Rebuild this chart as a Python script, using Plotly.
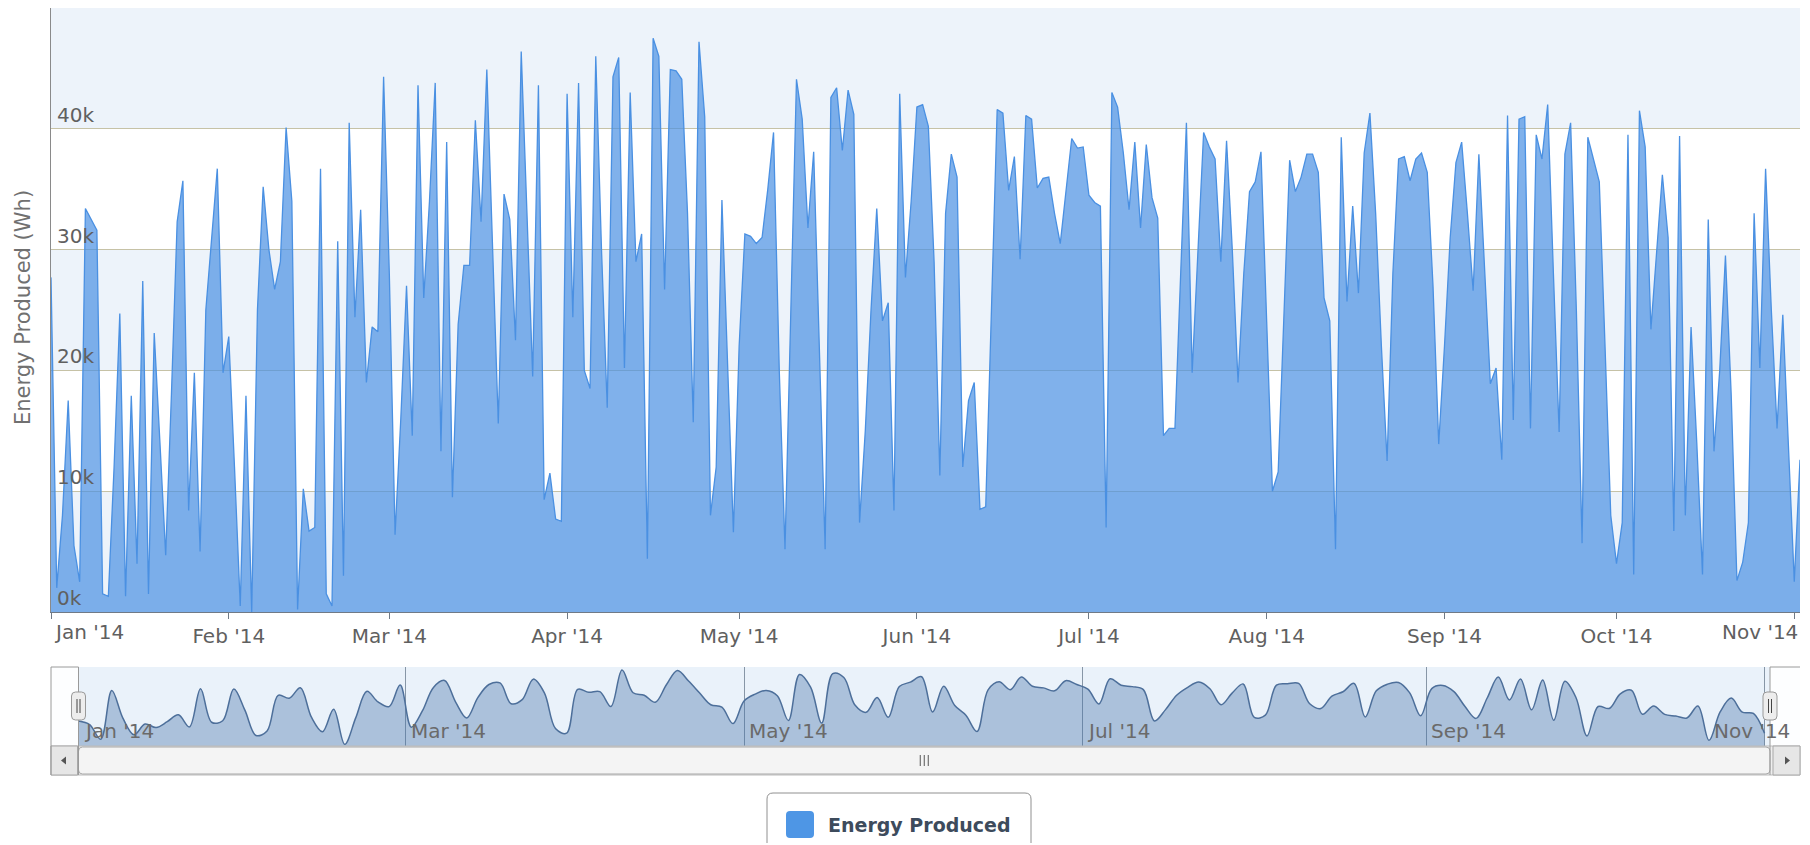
import pandas as pd
import numpy as np
import plotly.graph_objects as go

# ---------------- data (daily energy, thousands of Wh) ----------------
start_date = "2014-01-01"
energy_k = [
    27.7, 2, 8, 17.5, 5.5, 2.5, 33.4, 32.5, 31.6, 1.5,
    1.3, 12, 24.7, 1.3, 17.9, 4, 27.4, 1.5, 23.1, 14,
    4.7, 18, 32.3, 35.7, 8.4, 19.8, 5, 25, 31, 36.7,
    19.8, 22.8, 12, 0.5, 17.9, 0, 25, 35.2, 30, 26.7,
    29, 40.1, 34, 0.2, 10.2, 6.7, 7, 36.7, 1.5, 0.5,
    30.7, 3, 40.5, 24.4, 33.3, 19, 23.6, 23.2, 44.3, 28,
    6.4, 16, 27, 14.6, 43.6, 26, 34, 43.8, 13.3, 38.9,
    9.5, 23.8, 28.7, 28.7, 40.7, 32.3, 44.9, 30, 15.6, 34.6,
    32.5, 22.5, 46.4, 33, 19.5, 43.6, 9.3, 11.5, 7.7, 7.5,
    42.9, 24.4, 43.8, 20, 18.5, 46, 30, 16.9, 44.3, 45.9,
    20.2, 43, 29, 31.3, 4.4, 47.5, 46, 26.7, 44.9, 44.8,
    44.1, 33, 15.7, 47.2, 41, 8, 12, 34.1, 20, 6.6,
    22, 31.3, 31.1, 30.5, 31, 35, 39.7, 20, 5.2, 25,
    44.1, 40.8, 31.8, 38.1, 22, 5.2, 42.6, 43.4, 38.2, 43.2,
    41.2, 7.4, 15, 25, 33.4, 24.1, 25.6, 8.4, 42.9, 27.7,
    34, 41.8, 42, 40.2, 29, 11.3, 33, 37.9, 36, 12,
    17.5, 19, 8.5, 8.7, 25, 41.6, 41.3, 34.9, 37.7, 29.2,
    41.1, 40.8, 35.1, 35.9, 36, 33, 30.5, 35, 39.2, 38.4,
    38.5, 34.5, 33.9, 33.6, 7, 43, 41.8, 38, 33.3, 38.9,
    31.8, 38.7, 34.3, 32.6, 14.6, 15.2, 15.2, 28, 40.5, 19.8,
    30, 39.7, 38.5, 37.5, 29, 39, 30, 19, 28, 34.8,
    35.6, 38.1, 24, 10, 11.6, 25, 37.4, 34.8, 36, 37.9,
    37.9, 36.4, 26, 24.1, 5.2, 39.3, 25.7, 33.6, 26.4, 38,
    41.3, 33, 22, 12.5, 28, 37.5, 37.7, 35.7, 37.5, 38,
    36.4, 27, 13.9, 22, 31, 37.2, 38.9, 33, 26.6, 37.9,
    28, 18.9, 20.2, 12.6, 41.1, 15.9, 40.8, 41, 15.2, 39.5,
    37.5, 42, 28, 14.9, 37.9, 40.5, 25, 5.7, 39.3, 37.5,
    35.6, 22, 8, 4, 7.4, 39.5, 3.1, 41.5, 38.5, 23.4,
    30, 36.2, 31, 6.7, 39.4, 8, 23.6, 14, 3.1, 32.5,
    13.3, 20, 29.5, 18, 2.6, 4.1, 7.4, 33, 20.2, 36.7,
    25, 15.2, 24.6, 14, 2.5, 12.6,
]
series_name = "Energy Produced"
y_title = "Energy Produced (Wh)"
y_ticks = [0, 10000, 20000, 30000, 40000, 50000]
y_tick_labels = ["0k", "10k", "20k", "30k", "40k", ""]
month_ticks = pd.date_range("2014-01-01", "2014-11-01", freq="MS")
month_labels = [d.strftime("%b '%y") for d in month_ticks]
nav_ticks = month_ticks[::2]
nav_labels = [d.strftime("%b '%y") for d in nav_ticks]

dates = pd.date_range(start_date, periods=len(energy_k), freq="D")
energy_wh = [v * 1000 for v in energy_k]

# navigator: 2-day grouped means
grp = 2
nav_x = dates[::grp]
nav_y = [float(np.mean(energy_wh[i:i + grp])) for i in range(0, len(energy_wh), grp)]

# ---------------- geometry helpers (page pixels) ----------------
W, H = 1800, 835
OFF = 8


def px(x):
    return (x - OFF) / W


def py(y):
    return 1 - (y - OFF) / H


def rrect(x0, y0, x1, y1, r):
    rx, ry = r / W, r / H
    a0, a1 = px(x0), px(x1)
    b0, b1 = py(y0), py(y1)  # b0 top (larger), b1 bottom
    return (f"M {a0+rx},{b0} L {a1-rx},{b0} Q {a1},{b0} {a1},{b0-ry} "
            f"L {a1},{b1+ry} Q {a1},{b1} {a1-rx},{b1} L {a0+rx},{b1} "
            f"Q {a0},{b1} {a0},{b1+ry} L {a0},{b0-ry} Q {a0},{b0} {a0+rx},{b0} Z")


FONT = "DejaVu Sans"
LBL = "#606060"

fig = go.Figure()
fig.add_trace(go.Scatter(
    x=dates, y=energy_wh, mode="lines", fill="tozeroy",
    line=dict(color="#4a90e2", width=1.3),
    fillcolor="rgba(74,144,226,0.70)",
    name=series_name, showlegend=False, hoverinfo="skip",
    xaxis="x", yaxis="y"))
fig.add_trace(go.Scatter(
    x=nav_x, y=nav_y, mode="lines", fill="tozeroy",
    line=dict(color="#4d6f9a", width=1.5, shape="spline", smoothing=1),
    fillcolor="rgba(69,114,167,0.38)",
    showlegend=False, hoverinfo="skip", xaxis="x2", yaxis="y2"))

day = pd.Timedelta(days=1)
nav_start = dates[0] - 4.96 * day
nav_end = dates[0] + 310.4 * day

shapes = []
# alternate plot bands
for lo in (0, 20000, 40000):
    shapes.append(dict(type="rect", xref="x domain", yref="y", x0=0, x1=1,
                       y0=lo, y1=lo + 10000, fillcolor="#edf3fa",
                       line=dict(width=0), layer="below"))
# navigator background
shapes.append(dict(type="rect", xref="x2 domain", yref="y2 domain", x0=0, x1=1,
                   y0=0, y1=1, fillcolor="#eaf2fa", line=dict(width=0), layer="below"))
# navigator masks
for xa, xb in ((51, 78.5), (1770, 1800)):
    shapes.append(dict(type="rect", xref="paper", yref="paper",
                       x0=px(xa), x1=px(xb), y0=py(746), y1=py(667),
                       fillcolor="rgba(255,255,255,0.9)", line=dict(width=0), layer="above"))
# scrollbar track and buttons
shapes.append(dict(type="rect", xref="paper", yref="paper", x0=px(51), x1=px(1800),
                   y0=py(775), y1=py(746), fillcolor="#eeeeee",
                   line=dict(color="#bbbbbb", width=1), layer="above"))
for xa, xb in ((51, 77.5), (1773, 1800)):
    shapes.append(dict(type="rect", xref="paper", yref="paper", x0=px(xa), x1=px(xb),
                       y0=py(775), y1=py(746), fillcolor="#e6e6e6",
                       line=dict(color="#a8a8a8", width=1), layer="above"))
shapes.append(dict(type="path", path=rrect(78.5, 747, 1770, 774, 4), xref="paper", yref="paper",
                   fillcolor="#f4f4f4", line=dict(color="#a8a8a8", width=1), layer="above"))
gx = (78.5 + 1770) / 2
for dx in (-4, 0, 4):
    shapes.append(dict(type="line", xref="paper", yref="paper", x0=px(gx + dx), x1=px(gx + dx),
                       y0=py(755), y1=py(766), line=dict(color="#555555", width=1), layer="above"))
shapes.append(dict(type="path", xref="paper", yref="paper",
                   path=f"M {px(61)},{py(760.5)} L {px(66)},{py(756.5)} L {px(66)},{py(764.5)} Z",
                   fillcolor="#555555", line=dict(width=0), layer="above"))
shapes.append(dict(type="path", xref="paper", yref="paper",
                   path=f"M {px(1790)},{py(760.5)} L {px(1785)},{py(756.5)} L {px(1785)},{py(764.5)} Z",
                   fillcolor="#555555", line=dict(width=0), layer="above"))
# navigator outline
outline = (f"M {px(51)},{py(775)} L {px(51)},{py(667)} L {px(78.5)},{py(667)} L {px(78.5)},{py(775)} "
           f"M {px(1770)},{py(775)} L {px(1770)},{py(667)} L {px(1800)},{py(667)}")
shapes.append(dict(type="path", path=outline, xref="paper", yref="paper",
                   line=dict(color="#9a9a9a", width=1), layer="above"))
# handles
for cx in (78.5, 1770):
    shapes.append(dict(type="path", path=rrect(cx - 7, 692, cx + 7, 720, 4), xref="paper", yref="paper",
                       fillcolor="#ededed", line=dict(color="#999999", width=1), layer="above"))
    for dx in (-1.5, 1.5):
        shapes.append(dict(type="line", xref="paper", yref="paper", x0=px(cx + dx), x1=px(cx + dx),
                           y0=py(699), y1=py(713), line=dict(color="#444444", width=1), layer="above"))
# legend box
shapes.append(dict(type="path", path=rrect(767, 793, 1031, 880, 6), xref="paper", yref="paper",
                   fillcolor="white", line=dict(color="#909090", width=1), layer="above"))
shapes.append(dict(type="path", path=rrect(786, 811, 814, 838, 4), xref="paper", yref="paper",
                   fillcolor="#4e96e5", line=dict(width=0), layer="above"))

annotations = []
for v, t in zip(y_ticks, y_tick_labels):
    if t:
        annotations.append(dict(text=t, xref="paper", yref="y", x=px(55), y=v,
                                xanchor="left", yanchor="bottom", showarrow=False,
                                font=dict(family=FONT, size=20, color=LBL)))
annotations.append(dict(text=y_title, xref="paper", yref="paper", x=px(23), y=py(308),
                        textangle=-90, showarrow=False, xanchor="center", yanchor="middle",
                        font=dict(family=FONT, size=21, color="#707070")))
annotations.append(dict(text=month_labels[0], xref="x", yref="paper", x=month_ticks[0], y=py(632),
                        xanchor="left", yanchor="middle", xshift=1, showarrow=False,
                        font=dict(family=FONT, size=20, color=LBL)))
annotations.append(dict(text=month_labels[-1], xref="paper", yref="paper", x=px(1800), y=py(632),
                        xanchor="right", yanchor="middle", showarrow=False,
                        font=dict(family=FONT, size=20, color=LBL)))
for i, (d, t) in enumerate(zip(nav_ticks, nav_labels)):
    if i == len(nav_ticks) - 1:
        annotations.append(dict(text=t, xref="paper", yref="paper", x=px(1792), y=py(731),
                                xanchor="right", yanchor="middle", showarrow=False,
                                font=dict(family=FONT, size=20, color="#6a6a6a")))
    else:
        annotations.append(dict(text=t, xref="x2", yref="paper", x=d, y=py(731), xshift=3,
                                xanchor="left", yanchor="middle", showarrow=False,
                                font=dict(family=FONT, size=20, color="#6a6a6a")))
annotations.append(dict(text="<b>" + series_name + "</b>", xref="paper", yref="paper",
                        x=px(826), y=py(825), xanchor="left", yanchor="middle", showarrow=False,
                        font=dict(family=FONT, size=19, color="#3d4b5c")))

main_ticktext = [("" if i in (0, len(month_labels) - 1) else t) for i, t in enumerate(month_labels)]

fig.update_layout(
    width=W, height=H,
    margin=dict(l=0, r=0, t=0, b=0),
    paper_bgcolor="white", plot_bgcolor="white",
    showlegend=False, hovermode=False,
    xaxis=dict(domain=[px(51), px(1800)], type="date", range=[dates[0], dates[-1]],
               tickmode="array", tickvals=list(month_ticks), ticktext=main_ticktext,
               ticks="outside", ticklen=6, tickcolor="#707a86", tickwidth=1,
               showline=True, linecolor="#707a86", linewidth=1, showgrid=False,
               zeroline=False, anchor="y",
               tickfont=dict(family=FONT, size=20, color=LBL)),
    yaxis=dict(domain=[py(612), 1.0], range=[0, 50000], tickmode="array", tickvals=y_ticks,
               showticklabels=False, showgrid=True, gridcolor="#c6c2a6", gridwidth=1,
               showline=True, linecolor="#8a8a8a", linewidth=1, zeroline=False,
               ticks="", anchor="x"),
    xaxis2=dict(domain=[px(51), px(1800)], type="date", range=[nav_start, nav_end],
                tickmode="array", tickvals=list(nav_ticks), showticklabels=False,
                showgrid=True, gridcolor="#8796a6", gridwidth=1, ticks="",
                showline=False, zeroline=False, anchor="y2"),
    yaxis2=dict(domain=[py(746), py(667)], range=[0, max(nav_y) * 1.04],
                showgrid=False, showticklabels=False, zeroline=False, showline=False,
                ticks="", anchor="x2"),
    shapes=shapes, annotations=annotations,
)

fig.write_html("out.html", config={"displayModeBar": False})
